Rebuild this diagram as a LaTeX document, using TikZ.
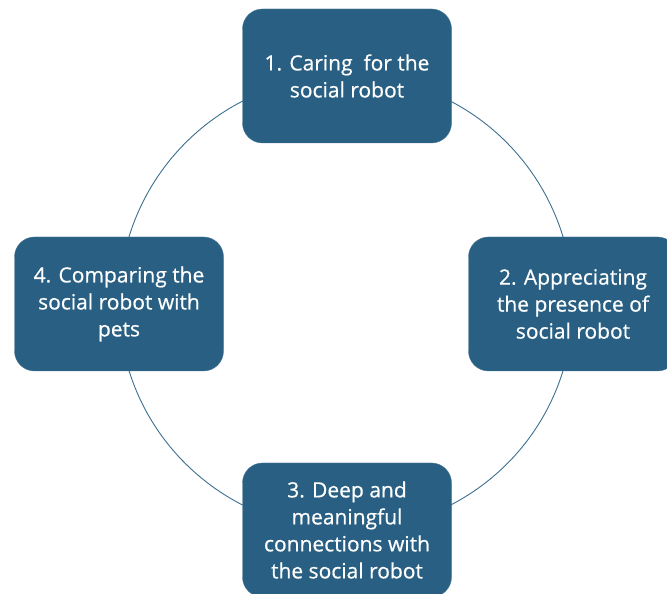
\documentclass[tikz,border=0pt]{standalone}
\usepackage{fontspec}
\setmainfont{Open Sans}[FakeBold=0.6]
\usetikzlibrary{backgrounds}
\definecolor{stepblue}{HTML}{285F82}
\definecolor{ringblue}{HTML}{3C6F90}
\tikzset{
  stagebox/.style={draw=stepblue!85!white, fill=stepblue, rounded corners=20pt,
    minimum width=209pt, minimum height=134pt, align=center, text=white,
    font=\fontsize{21}{27}\selectfont},
  ring/.style={ringblue, line width=0.9pt}
}
\begin{document}
\begin{tikzpicture}[x=1pt,y=1pt]
    \useasboundingbox (0,0) rectangle (667,594);
    \node[stagebox] (caring) at (347,518) {1. Caring\ \ for the\\social robot};
    \node[stagebox] (appreciating) at (573,290) {2. Appreciating\\the presence of\\social robot};
    \node[stagebox] (deep) at (347,64) {3. Deep and\\meaningful\\connections with\\the social robot};
    \node[stagebox] (comparing) at (119,290) {4. Comparing the\\social robot with\\pets};
    \begin{scope}[on background layer]
        \draw[ring] (caring.center) to[out=0,in=90] (appreciating.center);
        \draw[ring] (appreciating.center) to[out=-90,in=0] (deep.center);
        \draw[ring] (deep.center) to[out=180,in=-90] (comparing.center);
        \draw[ring] (comparing.center) to[out=90,in=180] (caring.center);
    \end{scope}
\end{tikzpicture}
\end{document}
